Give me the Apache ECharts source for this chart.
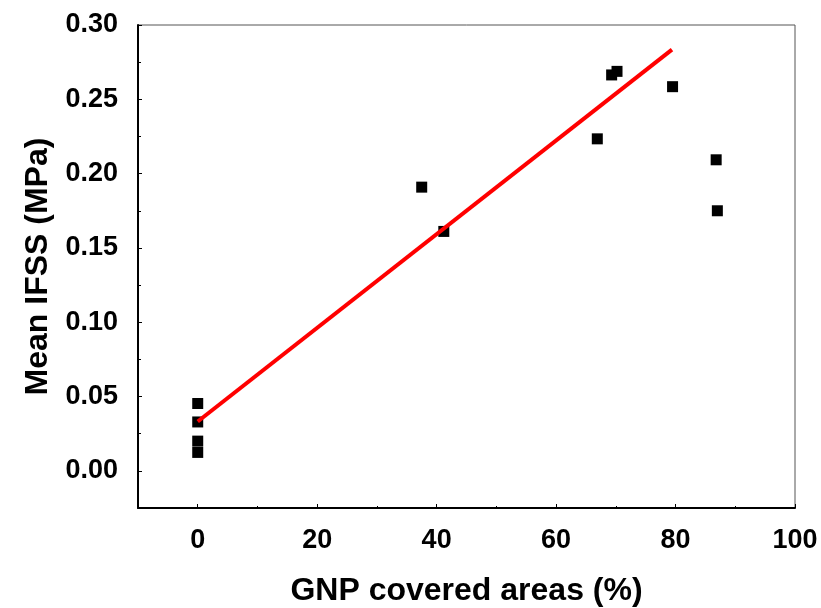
<!DOCTYPE html>
<html>
<head>
<meta charset="utf-8">
<script src="https://cdn.jsdelivr.net/npm/echarts@6/dist/echarts.min.js"></script>
<style>html,body{margin:0;padding:0;background:#fff;}#c{width:821px;height:608px;}</style>
</head>
<body>
<div id="c"></div>
<script>
const coverage = [0, 0, 0, 0, 37.5, 41.2, 66.9, 69.3, 70.2, 79.5, 86.8, 87.0];
const ifss = [0.0453, 0.0329, 0.0200, 0.0124, 0.1909, 0.1611, 0.2234, 0.2664, 0.2688, 0.2585, 0.2093, 0.1750];
const fitX = [0, 79.4];
const fitY = [0.0332, 0.2834];
const xTicks = [0, 20, 40, 60, 80, 100];
const xMinorTicks = [-10, 10, 30, 50, 70, 90];
const yTicks = [0, 0.05, 0.10, 0.15, 0.20, 0.25, 0.30];
const yMinorTicks = [-0.025, 0.025, 0.075, 0.125, 0.175, 0.225, 0.275];

const chart = echarts.init(document.getElementById('c'));
const font = '"Liberation Sans", Arial, sans-serif';
const points = coverage.map((x, i) => [x, ifss[i]]);
const fit = fitX.map((x, i) => [x, fitY[i]]);

chart.setOption({
  animation: false,
  backgroundColor: '#fff',
  grid: { left: 138, right: 26, top: 25, bottom: 100, show: true, borderColor: '#555', borderWidth: 1,
    outerBoundsMode: 'none', containLabel: false },
  xAxis: [{
    type: 'value', min: -10, max: 100, position: 'bottom',
    name: 'GNP covered areas (%)', nameLocation: 'middle', nameGap: 67,
    nameTextStyle: { fontFamily: font, fontWeight: 'bold', fontSize: 32, color: '#000' },
    axisLine: { show: true, onZero: false, lineStyle: { color: '#000', width: 2 } },
    axisTick: { show: true, inside: true, length: 4, customValues: xTicks, lineStyle: { color: '#000', width: 1 } },
    axisLabel: { customValues: xTicks, margin: 19, fontFamily: font, fontWeight: 'bold', fontSize: 27, color: '#000' },
    splitLine: { show: false }
  }, {
    type: 'value', min: -10, max: 100, position: 'bottom',
    axisLine: { show: false, onZero: false },
    axisTick: { show: true, inside: true, length: 2, customValues: xMinorTicks, lineStyle: { color: '#000', width: 1 } },
    axisLabel: { show: false },
    splitLine: { show: false }
  }],
  yAxis: [{
    type: 'value', min: -0.025, max: 0.30, position: 'left',
    name: 'Mean IFSS (MPa)', nameLocation: 'middle', nameGap: 83,
    nameTextStyle: { fontFamily: font, fontWeight: 'bold', fontSize: 32, color: '#000' },
    axisLine: { show: true, onZero: false, lineStyle: { color: '#000', width: 2 } },
    axisTick: { show: true, inside: true, length: 4, customValues: yTicks, lineStyle: { color: '#000', width: 1 } },
    axisLabel: { customValues: yTicks, margin: 20, fontFamily: font, fontWeight: 'bold', fontSize: 27, color: '#000',
      formatter: v => v.toFixed(2) },
    splitLine: { show: false }
  }, {
    type: 'value', min: -0.025, max: 0.30, position: 'left',
    axisLine: { show: false, onZero: false },
    axisTick: { show: true, inside: true, length: 3, customValues: yMinorTicks, lineStyle: { color: '#000', width: 1 } },
    axisLabel: { show: false },
    splitLine: { show: false }
  }],
  series: [{
    type: 'scatter', data: points, symbol: 'rect', symbolSize: 11,
    itemStyle: { color: '#000', opacity: 1 }, z: 2
  }, {
    type: 'line', data: fit, symbol: 'none', z: 3,
    lineStyle: { color: '#ff0000', width: 4 }
  }]
});
</script>
</body>
</html>
